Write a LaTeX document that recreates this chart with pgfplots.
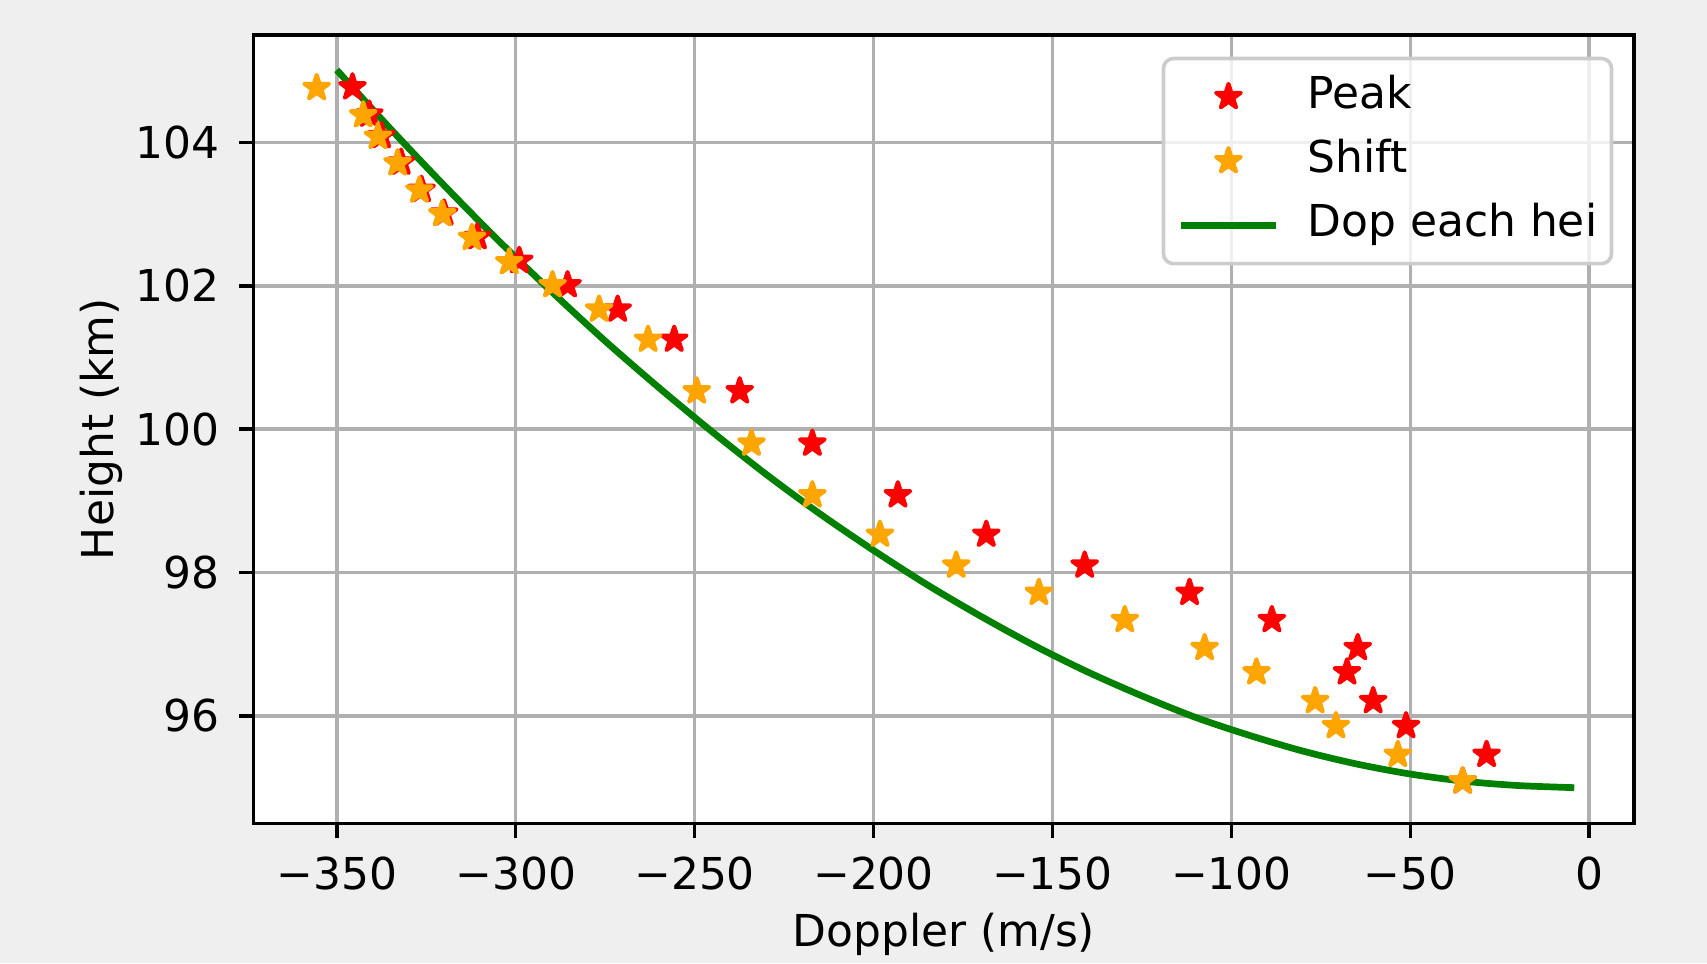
\documentclass[border=0pt]{standalone}
\usepackage{pgfplots}
\pgfplotsset{compat=1.18}
\usepackage{fontspec}
\setmainfont{DejaVu Sans}
\definecolor{figbg}{RGB}{239,239,239}
\definecolor{gridgray}{RGB}{176,176,176}
\definecolor{mplgreen}{RGB}{0,128,0}
\definecolor{mplorange}{RGB}{255,165,0}
\definecolor{mplred}{RGB}{255,0,0}
\newcommand{\fs}{\fontsize{12.5}{15}\selectfont}

% filled five-point star like matplotlib's '*'
\pgfdeclareplotmark{fstar}{%
  \pgfpathmoveto{\pgfpointpolar{90}{\pgfplotmarksize}}%
  \pgfpathlineto{\pgfpointpolar{126}{0.382\pgfplotmarksize}}%
  \pgfpathlineto{\pgfpointpolar{162}{\pgfplotmarksize}}%
  \pgfpathlineto{\pgfpointpolar{198}{0.382\pgfplotmarksize}}%
  \pgfpathlineto{\pgfpointpolar{234}{\pgfplotmarksize}}%
  \pgfpathlineto{\pgfpointpolar{270}{0.382\pgfplotmarksize}}%
  \pgfpathlineto{\pgfpointpolar{306}{\pgfplotmarksize}}%
  \pgfpathlineto{\pgfpointpolar{342}{0.382\pgfplotmarksize}}%
  \pgfpathlineto{\pgfpointpolar{18}{\pgfplotmarksize}}%
  \pgfpathlineto{\pgfpointpolar{54}{0.382\pgfplotmarksize}}%
  \pgfpathclose
  \pgfusepathqfillstroke
}

\begin{document}
\begin{tikzpicture}
\path[use as bounding box, fill=figbg] (-2.537cm,-1.395cm) rectangle (14.533cm,8.235cm);
\begin{axis}[
  scale only axis,
  width=13.803cm, height=7.887cm,
  xmin=-373.2, xmax=12.5,
  ymin=94.5, ymax=105.5,
  axis background/.style={fill=white},
  axis line style={line width=0.36mm},
  xtick={-350,-300,-250,-200,-150,-100,-50,0},
  xticklabels={−350,−300,−250,−200,−150,−100,−50,0},
  ytick={96,98,100,102,104},
  yticklabels={96,98,100,102,104},
  tick align=outside,
  major tick length=1.45mm,
  tick style={line width=0.36mm, black},
  xtick pos=bottom, ytick pos=left,
  grid=major,
  grid style={gridgray, line width=0.36mm},
  tick label style={font=\fs},
  xticklabel style={anchor=north, inner sep=0pt, yshift=-1.82mm},
  yticklabel style={anchor=east, inner sep=0pt, xshift=-1.92mm},
  xlabel={Doppler (m/s)},
  ylabel={Height (km)},
  label style={font=\fs, inner sep=0pt},
  xlabel style={at={(axis description cs:0.5,-0.1562)}, anchor=base},
  ylabel style={at={(axis description cs:-0.1017,0.5)}, anchor=base, rotate=0},
  legend cell align=left,
  legend style={at={(rel axis cs:1,1)}, anchor=north east,
    xshift=-2.07mm, yshift=-2.19mm,
    draw=black!20, line width=0.36mm, rounded corners=1mm,
    fill=white, fill opacity=0.8, text opacity=1,
    font=\fs, inner xsep=1.43mm, inner ysep=0.8mm,
    row sep=0.35mm, column sep=2.85mm,
    nodes={inner sep=0pt, text height=4.2mm, text depth=1.87mm}},
  legend image code/.code={%
    \draw[mark repeat=2, mark phase=2, fill opacity=1, draw opacity=1, #1]
      plot coordinates {(0mm,0mm) (4.735mm,0mm) (9.47mm,0mm)};},
]
\addplot[only marks, mark=fstar, mark size=1.3mm, color=mplred,
  mark options={line width=0.4mm, line join=round}]
  coordinates {
  (-345.6,104.77) (-340.9,104.39) (-337.5,104.09) (-332.0,103.72)
  (-326.3,103.34) (-320.0,103.01) (-310.7,102.68) (-299.0,102.35)
  (-285.5,102.01) (-271.5,101.67) (-255.7,101.25) (-237.4,100.53)
  (-217.1,99.80) (-193.2,99.08) (-168.5,98.53) (-141.0,98.10)
  (-111.7,97.72) (-88.7,97.34) (-64.7,96.95) (-67.7,96.61)
  (-60.4,96.21) (-51.2,95.86) (-28.7,95.46) (-35.4,95.09)
  };
\addlegendentry{Peak}
\addplot[only marks, mark=fstar, mark size=1.3mm, color=mplorange,
  mark options={line width=0.4mm, line join=round}]
  coordinates {
  (-355.6,104.76) (-342.6,104.38) (-338.5,104.08) (-333.0,103.71)
  (-326.9,103.33) (-320.5,103.00) (-312.2,102.67) (-301.8,102.33)
  (-289.7,102.01) (-276.7,101.67) (-263.0,101.25) (-249.4,100.53)
  (-234.1,99.80) (-217.1,99.08) (-198.2,98.53) (-176.9,98.10)
  (-153.8,97.72) (-129.8,97.34) (-107.5,96.95) (-93.0,96.61)
  (-76.6,96.21) (-70.8,95.86) (-53.5,95.46) (-35.4,95.09)
  };
\addlegendentry{Shift}
\addplot[color=mplgreen, line width=0.67mm, no marks, smooth]
  coordinates {
  (-350,105.01) (-335,104.19) (-320,103.40) (-305,102.64)
  (-290,101.92) (-275,101.23) (-260,100.58) (-245,99.96)
  (-230,99.37) (-215,98.82) (-200,98.31) (-185,97.83)
  (-170,97.39) (-155,96.98) (-140,96.61) (-125,96.28)
  (-110,95.98) (-95,95.73) (-80,95.51) (-65,95.33)
  (-50,95.19) (-35,95.09) (-20,95.03) (-4.2,95.00)
  };
\addlegendentry{Dop each hei}
\end{axis}
\end{tikzpicture}
\end{document}
